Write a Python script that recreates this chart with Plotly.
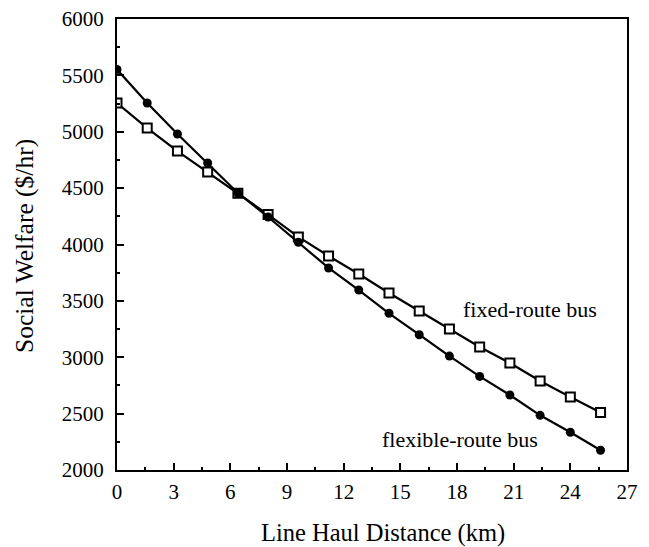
import plotly.graph_objects as go

distance_km = [0, 1.6, 3.2, 4.8, 6.4, 8.0, 9.6, 11.2, 12.8, 14.4, 16.0, 17.6, 19.2, 20.8, 22.4, 24.0, 25.6]
flexible_route = [5552, 5255, 4980, 4723, 4457, 4244, 4020, 3792, 3596, 3390, 3200, 3010, 2830, 2665, 2485, 2335, 2175]
fixed_route = [5255, 5033, 4829, 4643, 4455, 4265, 4067, 3898, 3738, 3570, 3410, 3251, 3091, 2949, 2789, 2647, 2510]

x_ticks = [0, 3, 6, 9, 12, 15, 18, 21, 24, 27]
y_ticks = [2000, 2500, 3000, 3500, 4000, 4500, 5000, 5500, 6000]

FONT = "Liberation Serif"
W, H = 649, 547
ML, MR, MT, MB = 117, 22, 19, 77
PW, PH = W - ML - MR, H - MT - MB

fig = go.Figure()
fig.add_trace(go.Scatter(
    x=distance_km, y=fixed_route, mode="lines+markers", name="fixed-route bus",
    line=dict(color="black", width=2.2),
    marker=dict(symbol="square", size=9, color="white", line=dict(color="black", width=2)),
    showlegend=False))
fig.add_trace(go.Scatter(
    x=distance_km, y=flexible_route, mode="lines+markers", name="flexible-route bus",
    line=dict(color="black", width=2.2),
    marker=dict(symbol="circle", size=9, color="black"),
    showlegend=False))

fig.add_annotation(x=21.85, y=3420, text="fixed-route bus", showarrow=False,
                   xanchor="center", yanchor="middle",
                   font=dict(family=FONT, size=22, color="black"))
fig.add_annotation(x=18.15, y=2270, text="flexible-route bus", showarrow=False,
                   xanchor="center", yanchor="middle",
                   font=dict(family=FONT, size=22, color="black"))

# axis titles
fig.add_annotation(xref="paper", yref="paper", x=(383 - ML) / PW, y=(H - MB - 533) / PH,
                   xanchor="center", yanchor="middle",
                   text="Line Haul Distance (km)", showarrow=False,
                   font=dict(family=FONT, size=24.5, color="black"))
fig.add_annotation(xref="paper", yref="paper", x=(24 - ML) / PW, y=(H - MB - 246) / PH,
                   xanchor="center", yanchor="middle",
                   text="Social Welfare ($/hr)", showarrow=False, textangle=-90,
                   font=dict(family=FONT, size=25.5, color="black"))

axis_common = dict(
    showgrid=False, zeroline=False, showline=True, linecolor="black", linewidth=2,
    mirror=True, ticks="inside", ticklen=7, tickwidth=2, tickcolor="black",
    tickfont=dict(family=FONT, size=21, color="black"), automargin=False,
)

fig.update_xaxes(range=[0, 27], tickvals=x_ticks, ticktext=[str(v) for v in x_ticks],
                 minor=dict(ticks="inside", ticklen=3, tickwidth=2, tickcolor="black", dtick=1.5, tick0=0),
                 ticklabelstandoff=2, **axis_common)
fig.update_yaxes(range=[2000, 6000], tickvals=y_ticks, ticktext=[str(v) for v in y_ticks],
                 minor=dict(ticks="inside", ticklen=3, tickwidth=2, tickcolor="black", dtick=250, tick0=2000),
                 ticklabelstandoff=7, **axis_common)

fig.update_layout(width=W, height=H, margin=dict(l=ML, r=MR, t=MT, b=MB),
                  plot_bgcolor="white", paper_bgcolor="white")

fig.write_html("out.html")
